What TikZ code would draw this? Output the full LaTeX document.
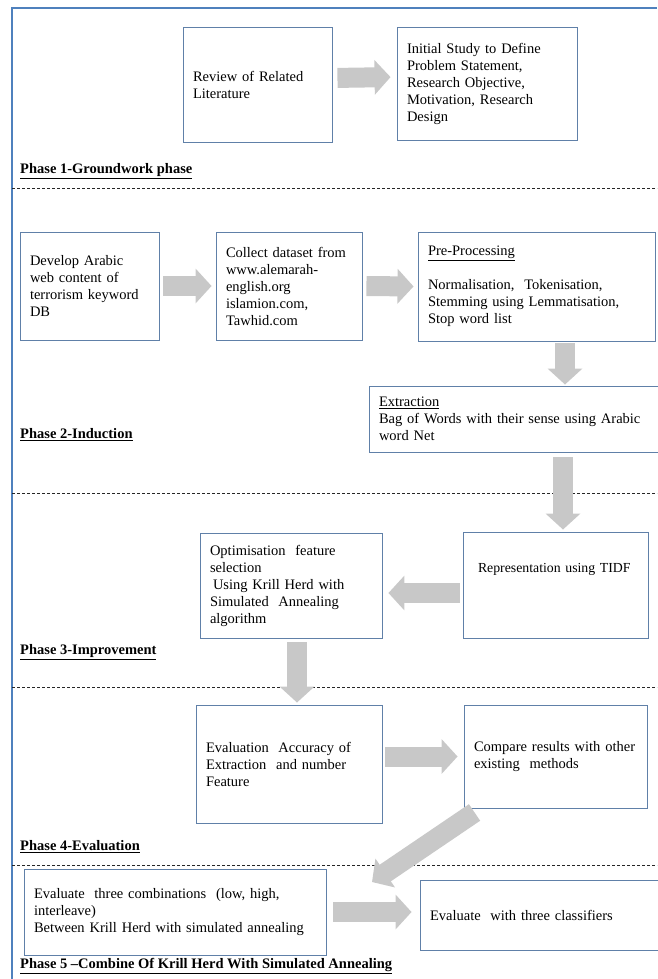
\documentclass[tikz,border=0pt]{standalone}
\usepackage{fontspec}
\setmainfont{Liberation Serif}
\usetikzlibrary{arrows.meta}
\definecolor{frameblue}{RGB}{79,129,189}
\definecolor{boxblue}{RGB}{96,128,168}
\definecolor{arrowgray}{RGB}{200,200,200}
\tikzset{
  stage/.style={draw=boxblue, line width=0.9pt, inner xsep=10pt, align=left,
    font=\fontsize{14.5}{17}\selectfont},
  fatarrow/.style={draw=arrowgray, line width=20pt,
    -{Triangle[length=16pt,width=34pt]}},
  phase/.style={anchor=west, inner sep=0pt, font=\bfseries\fontsize{14.5}{17}\selectfont},
  phaseline/.style={draw=black!85, line width=0.9pt, dash pattern=on 3pt off 2pt}
}

\begin{document}
\begin{tikzpicture}[x=1pt,y=-1pt]
\useasboundingbox (0,0) rectangle (657,979);
% outer frame and phase separators
\draw[frameblue, line width=2.5pt] (12,979) -- (12,8) -- (657,8);
\foreach \y in {188,493,687,865}
  \draw[phaseline] (12,\y) -- (657,\y);

% phase 1
\node[stage, text width=129pt, minimum height=115pt] (review) at (257.5,84.5) {Review of Related\\Literature};
\node[stage, text width=160pt, minimum height=113pt] (initial) at (487,83.5) {Initial Study to Define\\Problem Statement,\\Research Objective,\\Motivation, Research\\Design};
\node[phase] (ph1) at (20,171) {\underline{Phase 1-Groundwork phase}};

% phase 2
\node[stage, text width=119pt, minimum height=108pt] (develop) at (89.5,286) {Develop Arabic\\web content of\\terrorism keyword\\DB};
\node[stage, text width=126pt, minimum height=108pt] (collect) at (289,286) {Collect dataset from\\www.alemarah-\\english.org\\islamion.com,\\Tawhid.com};
\node[stage, text width=217pt, minimum height=109pt] (preproc) at (536.5,286.5) {\underline{Pre-Processing}\\[17pt]Normalisation,\ \ Tokenisation,\\Stemming using Lemmatisation,\\Stop word list};
\node[stage, text width=273pt, minimum height=66pt] (extract) at (515.5,419) {\underline{Extraction}\\Bag of Words with their sense using Arabic\\word Net};
\node[phase] (ph2) at (20,435) {\underline{Phase 2-Induction}};

% phase 3
\node[stage, inner xsep=15pt, text width=155pt, minimum height=106pt, text height=27pt, text depth=53pt,
  font=\fontsize{13.8}{16}\selectfont] (represent) at (555.5,585) {Representation using TIDF};
\node[stage, text width=162pt, minimum height=105pt] (optim) at (291,585.5) {Optimisation\ \ feature\\selection\\\hspace{3pt}Using Krill Herd with\\Simulated\ \ Annealing\\algorithm};
\node[phase] (ph3) at (20,652) {\underline{Phase 3-Improvement}};

% phase 4
\node[stage, text width=166pt, minimum height=118pt] (evalacc) at (289,764) {Evaluation\ \ Accuracy of\\Extraction\ \ and number\\Feature};
\node[stage, text width=163pt, minimum height=103pt] (compare) at (555.5,756.5) {Compare results with other\\existing\ \ methods};
\node[phase] (ph4) at (20,847) {\underline{Phase 4-Evaluation}};

% phase 5
\node[stage, text width=282pt, minimum height=86pt] (combine) at (175,912) {Evaluate\ \ three combinations\ \ (low, high,\\interleave)\\Between Krill Herd with simulated annealing};
\node[stage, text width=220pt, minimum height=70pt] (classify) at (540,915) {Evaluate\ \ with three classifiers};
\node[phase] (ph5) at (20,966) {\underline{Phase 5 --Combine Of Krill Herd With Simulated Annealing}};

% block arrows
\coordinate (downA) at (565,0);
\coordinate (downB) at (563,0);
\coordinate (tipK) at (372,882);
\draw[fatarrow, shorten <=5pt, shorten >=6pt] ([yshift=6.5pt]review.east) -- ([yshift=6.5pt]initial.west);
\draw[fatarrow, shorten <=4pt, shorten >=4pt] (develop.east) -- (collect.west);
\draw[fatarrow, shorten <=4pt, shorten >=4pt] (collect.east) -- (preproc.west);
\draw[fatarrow, shorten <=2pt, shorten >=1pt] (preproc.south -| downA) -- (extract.north -| downA);
\draw[fatarrow, shorten <=5pt, shorten >=2pt] (extract.south -| downB) -- (represent.north -| downB);
\draw[fatarrow, shorten <=3pt, shorten >=6pt] ([yshift=-8pt]represent.west) -- ([yshift=-8pt]represent.west -| optim.east);
\draw[fatarrow, shorten <=4pt, shorten >=2pt] ([xshift=6pt]optim.south) -- ([xshift=6pt]optim.south |- evalacc.north);
\draw[fatarrow, shorten <=3pt, shorten >=6pt] (evalacc.east |- compare.east) -- (compare.west);
\draw[fatarrow] ([shift={(11,4)}]compare.south west) -- (tipK);
\draw[fatarrow, shorten <=7pt, shorten >=8pt] (combine.east) -- (classify.west |- combine.east);
\end{tikzpicture}
\end{document}
